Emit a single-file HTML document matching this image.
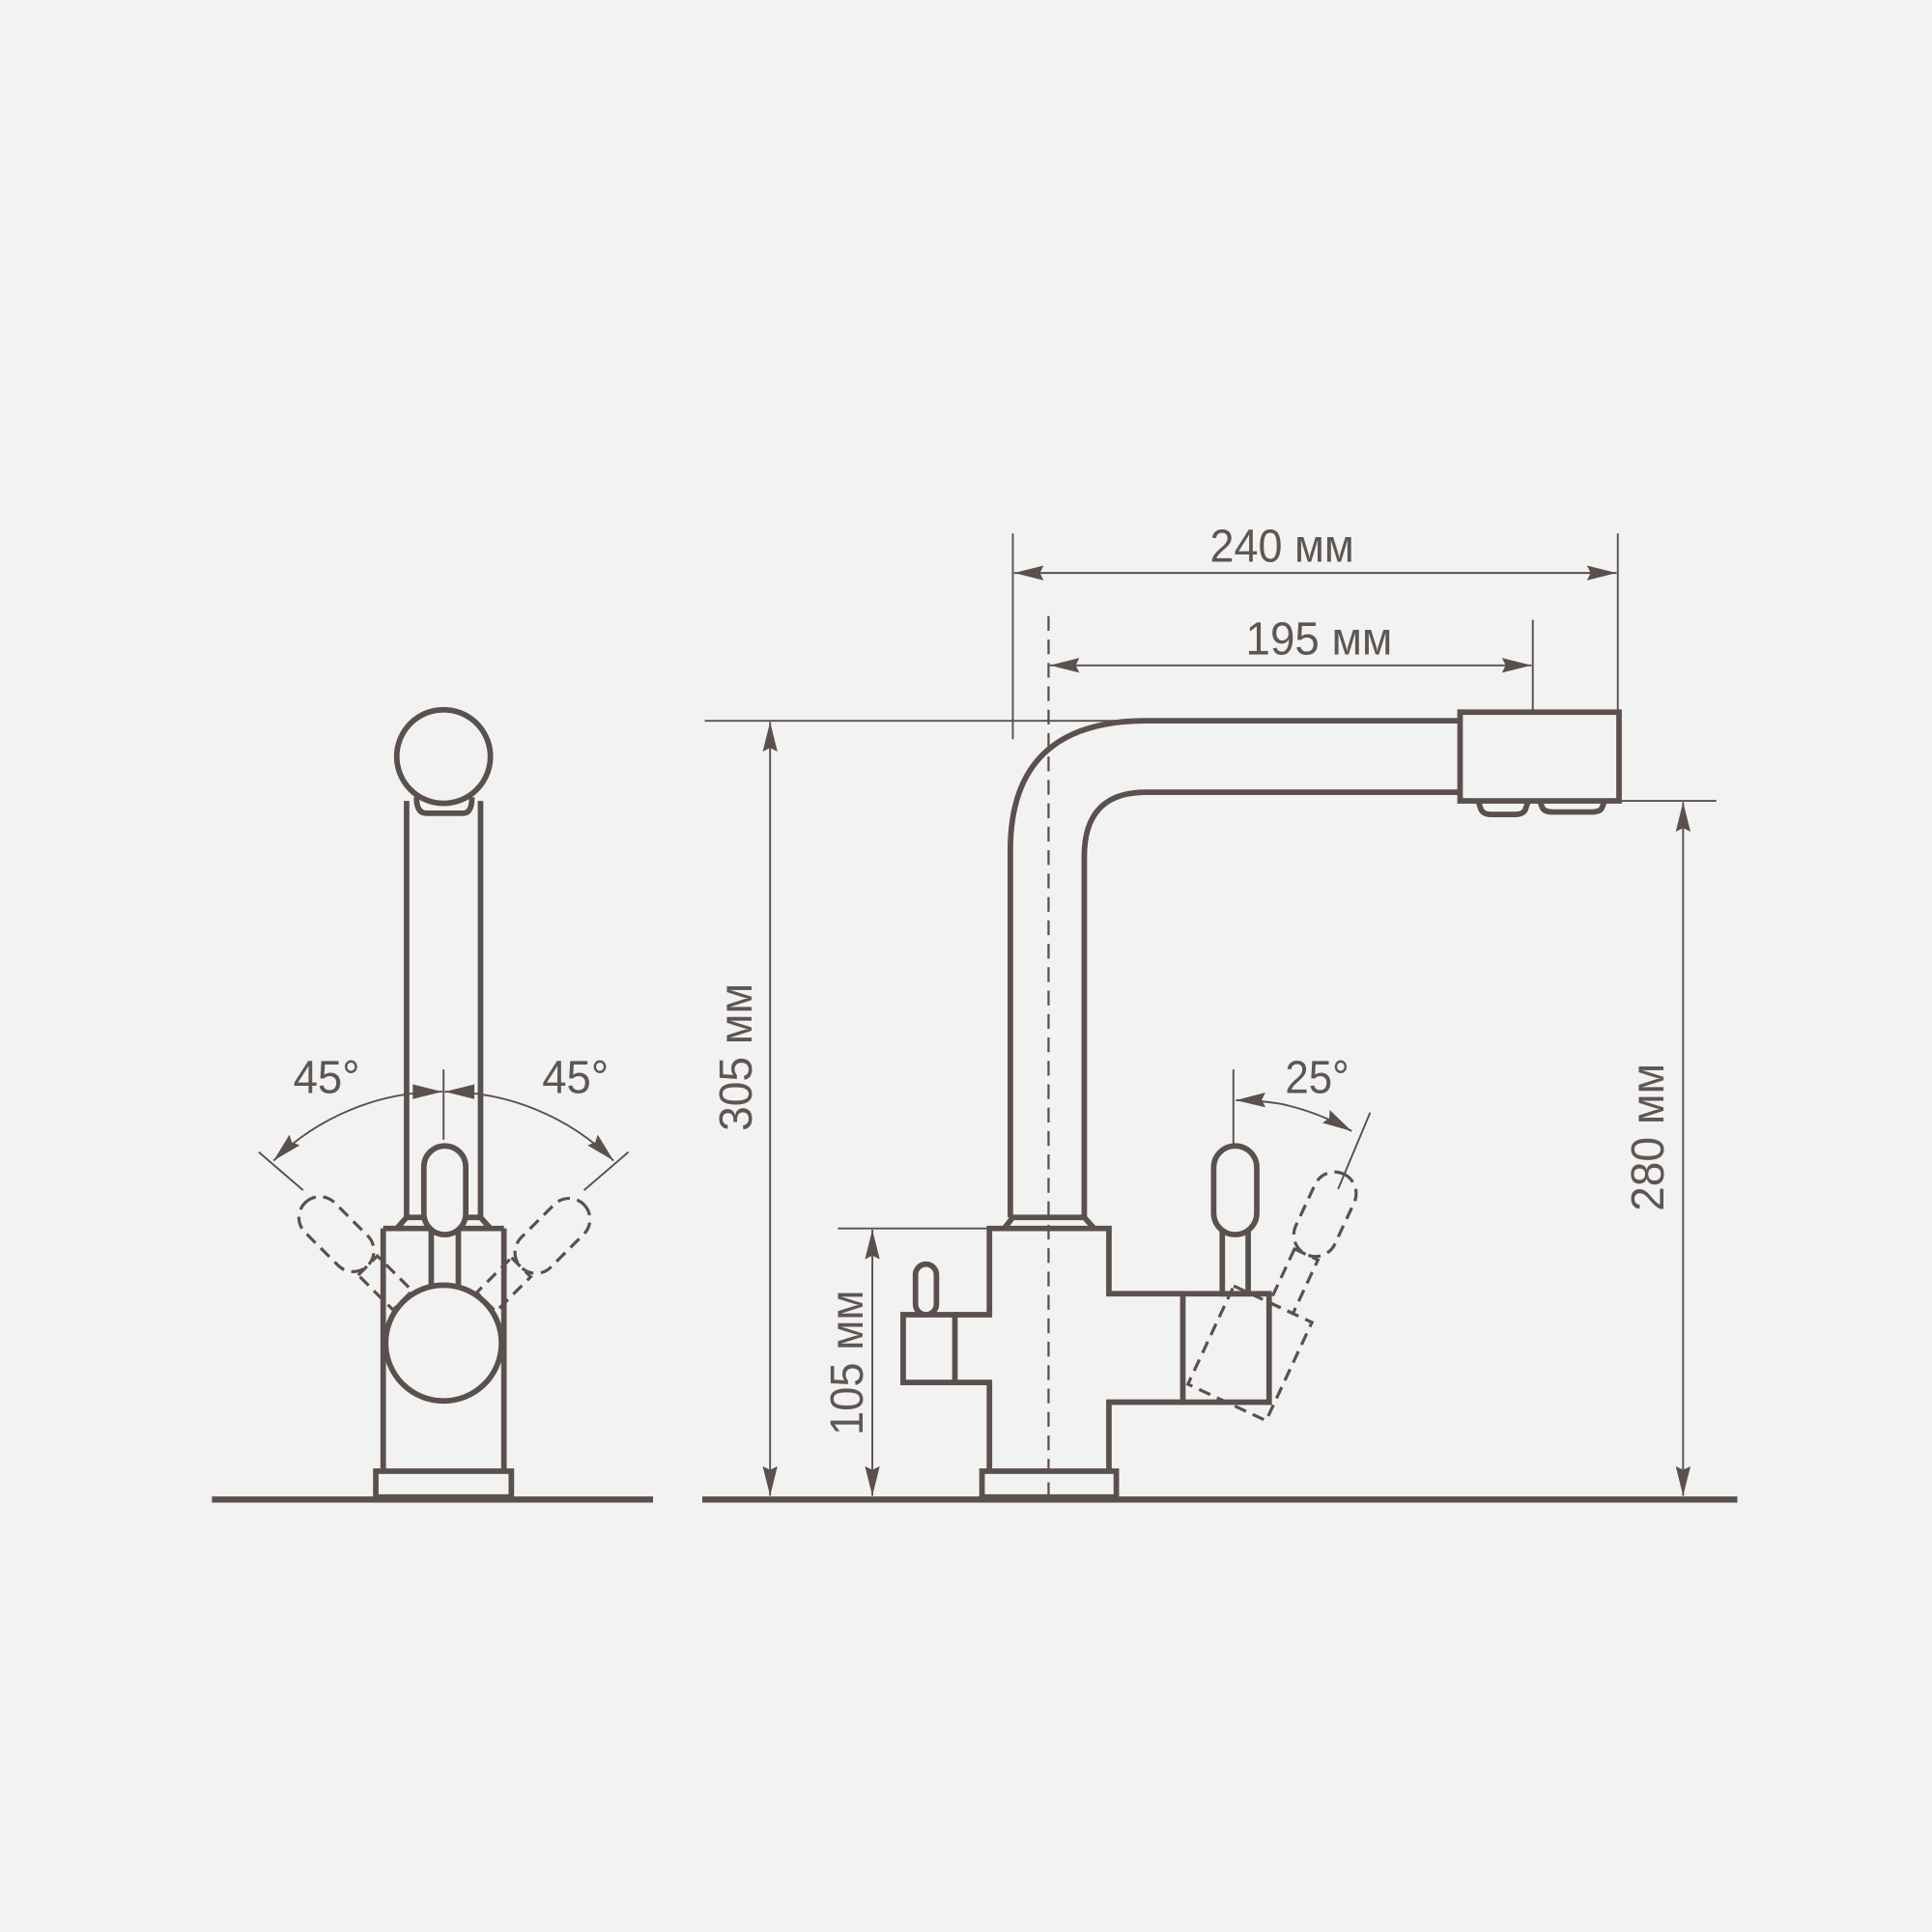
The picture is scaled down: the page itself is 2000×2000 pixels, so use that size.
<!DOCTYPE html>
<html><head><meta charset="utf-8"><style>
html,body{margin:0;padding:0;background:#f2f2f1;}
svg{display:block}
text{font-family:"Liberation Sans Narrow","Liberation Sans",sans-serif;fill:#5e5655;font-size:38px}
</style></head><body>
<svg width="2000" height="2000" viewBox="0 0 1568 1568" xmlns="http://www.w3.org/2000/svg">
<defs>
<marker id="a" viewBox="0 0 24 12" refX="24" refY="6" markerWidth="24" markerHeight="12" markerUnits="userSpaceOnUse" orient="auto-start-reverse">
<path d="M0,0 L24,6 L0,12 L3,6 Z" fill="#5a5050"/>
</marker>
</defs>
<rect width="1568" height="1568" fill="#f2f2f1"/>
<g stroke="#5a5050" fill="none">
<line x1="172" y1="1217" x2="530" y2="1217" stroke-width="5"/>
<line x1="570" y1="1217" x2="1410" y2="1217" stroke-width="5"/>

<!-- LEFT VIEW -->
<g stroke-width="4.5">
<rect x="305" y="1194" width="110" height="21"/>
<line x1="311" y1="997" x2="311" y2="1194"/>
<line x1="409" y1="997" x2="409" y2="1194"/>
<line x1="311" y1="997" x2="409" y2="997"/>
<line x1="330" y1="650" x2="330" y2="990"/>
<line x1="390" y1="650" x2="390" y2="990"/>
<path d="M322,997 L330,988 L390,988 L398,997"/>
<circle cx="360" cy="614" r="38" fill="#f2f2f1"/>
<path d="M338,647 Q338,660 346,660 L376,660 Q383,660 383,647"/>
<rect x="350" y="1000" width="22" height="48" fill="#f2f2f1"/>
<rect x="344" y="930" width="34" height="72" rx="17" fill="#f2f2f1"/>
<circle cx="360" cy="1090" r="47" fill="#f2f2f1"/>
</g>
<g stroke-width="2.5" stroke-dasharray="10,6">
<g transform="rotate(-45 360 1090)">
<rect x="344" y="930" width="34" height="72" rx="17"/>
<rect x="350" y="1002" width="22" height="40"/>
</g>
<g transform="rotate(45 360 1090)">
<rect x="344" y="930" width="34" height="72" rx="17"/>
<rect x="350" y="1002" width="22" height="40"/>
</g>
</g>
<g stroke-width="1.5">
<line x1="360" y1="868" x2="360" y2="925"/>
<line x1="210" y1="935" x2="246" y2="966"/>
<line x1="510" y1="935" x2="474" y2="966"/>
<path d="M359,886 A195,195 0 0 0 222,942" marker-end="url(#a)"/>
<path d="M361,886 A195,195 0 0 1 498,942" marker-end="url(#a)"/>
</g>
<path d="M335,880 L359,886 L335,892 Z M385,880 L361,886 L385,892 Z" fill="#5a5050" stroke="none"/>

<!-- RIGHT VIEW -->
<line x1="851" y1="500" x2="851" y2="1215" stroke-width="1.8" stroke-dasharray="12,7"/>
<g stroke-width="4.5">
<rect x="797" y="1194" width="109" height="21"/>
<path d="M803,1194 L803,1122 L775,1122 M775,1067 L803,1067 L803,997 L900,997 L900,1050 L960,1050 M960,1138 L900,1138 L900,1194"/>
<rect x="733" y="1067" width="42" height="55"/>
<rect x="743" y="1026" width="17" height="41" rx="8.5" fill="#f2f2f1"/>
<rect x="960" y="1050" width="70" height="88"/>
<path d="M815,997 L822,988 L880,988 L888,997"/>
<path d="M820,988 L820,690 Q820,585 930,585 L1185,585"/>
<path d="M880,988 L880,695 Q880,643 930,643 L1185,643"/>
<rect x="1185" y="578" width="129" height="72"/>
<path d="M1200,651 L1202,657 Q1204,661 1210,661 L1230,661 Q1236,661 1238,657 L1240,651"/>
<path d="M1250,651 L1252,656 Q1254,659 1260,659 L1292,659 Q1298,659 1300,656 L1302,651"/>
<rect x="992" y="1000" width="21" height="50" fill="#f2f2f1"/>
<rect x="985" y="930" width="35" height="72" rx="17.5" fill="#f2f2f1"/>
</g>
<g stroke-width="2.5" stroke-dasharray="10,6" transform="rotate(25 995 1140)">
<rect x="985" y="930" width="35" height="72" rx="17.5"/>
<rect x="992" y="1002" width="21" height="48"/>
<rect x="960" y="1050" width="70" height="88"/>
</g>
<g stroke-width="1.5">
<line x1="1001" y1="868" x2="1001" y2="930"/>
<line x1="1112" y1="903" x2="1086" y2="965"/>
<path d="M1040,896 A200,200 0 0 0 1003,893" marker-end="url(#a)"/>
<path d="M1040,896 A200,200 0 0 1 1097,918" marker-end="url(#a)"/>
<line x1="822" y1="433" x2="822" y2="600"/>
<line x1="1313" y1="433" x2="1313" y2="577"/>
<line x1="823" y1="465" x2="1312" y2="465" marker-start="url(#a)" marker-end="url(#a)"/>
<line x1="1244" y1="503" x2="1244" y2="577"/>
<line x1="852" y1="540" x2="1243" y2="540" marker-start="url(#a)" marker-end="url(#a)"/>
<line x1="572" y1="585" x2="905" y2="585"/>
<line x1="625" y1="586" x2="625" y2="1214" marker-start="url(#a)" marker-end="url(#a)"/>
<line x1="1300" y1="650" x2="1393" y2="650"/>
<line x1="1366" y1="651" x2="1366" y2="1214" marker-start="url(#a)" marker-end="url(#a)"/>
<line x1="680" y1="997" x2="803" y2="997"/>
<line x1="708" y1="998" x2="708" y2="1214" marker-start="url(#a)" marker-end="url(#a)"/>
</g>
</g>
<text x="238" y="887" textLength="54" lengthAdjust="spacingAndGlyphs">45°</text>
<text x="440" y="887" textLength="54" lengthAdjust="spacingAndGlyphs">45°</text>
<text x="1043" y="887" textLength="52" lengthAdjust="spacingAndGlyphs">25°</text>
<text x="982" y="456" textLength="117" lengthAdjust="spacingAndGlyphs">240 мм</text>
<text x="1011" y="531" textLength="119" lengthAdjust="spacingAndGlyphs">195 мм</text>
<text transform="translate(610,918) rotate(-90)" textLength="120" lengthAdjust="spacingAndGlyphs">305 мм</text>
<text transform="translate(1350,983) rotate(-90)" textLength="120" lengthAdjust="spacingAndGlyphs">280 мм</text>
<text transform="translate(700,1165) rotate(-90)" textLength="118" lengthAdjust="spacingAndGlyphs">105 мм</text>
</svg>
</body></html>
